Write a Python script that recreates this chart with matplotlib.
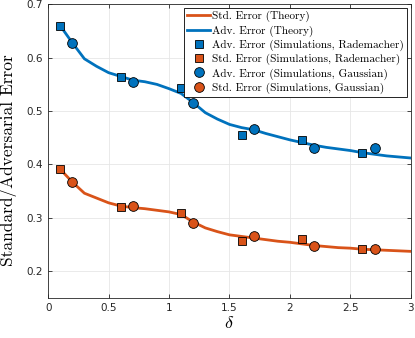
import numpy as np
import matplotlib.pyplot as plt

plt.rcParams['mathtext.fontset'] = 'cm'
plt.rcParams['font.family'] = 'DejaVu Sans'

# theory curves
delta_th = [0.1, 0.2, 0.3, 0.4, 0.5, 0.6, 0.7, 0.8, 0.9, 1.0,
            1.1, 1.2, 1.3, 1.4, 1.5, 1.6, 1.7, 1.8, 1.9, 2.0,
            2.1, 2.2, 2.3, 2.4, 2.5, 2.6, 2.7, 2.8, 2.9, 3.0]
adv_th = [0.660, 0.628, 0.598, 0.584, 0.572, 0.565, 0.558, 0.555, 0.550, 0.542,
          0.533, 0.516, 0.497, 0.485, 0.475, 0.469, 0.465, 0.458, 0.452, 0.446,
          0.441, 0.436, 0.432, 0.429, 0.426, 0.422, 0.419, 0.416, 0.414, 0.412]
std_th = [0.391, 0.367, 0.346, 0.337, 0.328, 0.322, 0.319, 0.317, 0.314, 0.311,
          0.306, 0.292, 0.281, 0.274, 0.268, 0.265, 0.262, 0.259, 0.256, 0.254,
          0.251, 0.248, 0.246, 0.244, 0.243, 0.241, 0.240, 0.239, 0.238, 0.237]

# simulations
delta_rad = [0.1, 0.6, 1.1, 1.6, 2.1, 2.6]
adv_rad = [0.659, 0.564, 0.543, 0.456, 0.445, 0.421]
std_rad = [0.391, 0.321, 0.309, 0.257, 0.260, 0.241]

delta_gau = [0.2, 0.7, 1.2, 1.7, 2.2, 2.7]
adv_gau = [0.627, 0.555, 0.516, 0.467, 0.431, 0.430]
std_gau = [0.367, 0.322, 0.291, 0.266, 0.247, 0.241]

blue = '#0072BD'
orange = '#D95319'

fig = plt.figure(figsize=(4.15, 3.38), dpi=100)
ax = fig.add_axes([0.116, 0.119, 0.874, 0.868])

ax.plot(delta_th, std_th, color=orange, lw=2, label='Std. Error (Theory)')
ax.plot(delta_th, adv_th, color=blue, lw=2, label='Adv. Error (Theory)')
ax.plot(delta_rad, adv_rad, 's', color=blue, mec='k', mew=0.6, ms=5.5,
        label='Adv. Error (Simulations, Rademacher)')
ax.plot(delta_rad, std_rad, 's', color=orange, mec='k', mew=0.6, ms=5.5,
        label='Std. Error (Simulations, Rademacher)')
ax.plot(delta_gau, adv_gau, 'o', color=blue, mec='k', mew=0.6, ms=7,
        label='Adv. Error (Simulations, Gaussian)')
ax.plot(delta_gau, std_gau, 'o', color=orange, mec='k', mew=0.6, ms=7,
        label='Std. Error (Simulations, Gaussian)')

ax.set_xlim(0, 3)
ax.set_ylim(0.15, 0.7)
ax.set_xticks([0, 0.5, 1, 1.5, 2, 2.5, 3])
ax.set_xticklabels(['0', '0.5', '1', '1.5', '2', '2.5', '3'])
ax.set_yticks([0.2, 0.3, 0.4, 0.5, 0.6, 0.7])
ax.tick_params(direction='in', top=True, right=True, labelsize=7.5,
               length=3, width=0.6, colors='#262626')
for s in ax.spines.values():
    s.set_linewidth(0.6)
    s.set_color('#262626')
ax.grid(True, color='#e6e6e6', lw=0.6)
ax.set_axisbelow(True)

ax.set_xlabel(r'$\delta$', fontsize=13, labelpad=1)
ax.set_ylabel('Standard/Adversarial Error', fontsize=12.5, family='cmr10')
ax.yaxis.set_label_coords(-0.085, 0.47)

leg = ax.legend(loc='upper right', prop={'family': 'cmr10', 'size': 8.1},
                fancybox=False, edgecolor='k', framealpha=1, borderpad=0.3,
                labelspacing=0.26, handlelength=2.0, handletextpad=0.2,
                borderaxespad=0.3)
leg.get_frame().set_linewidth(0.6)

fig.savefig('out.png', dpi=100)
